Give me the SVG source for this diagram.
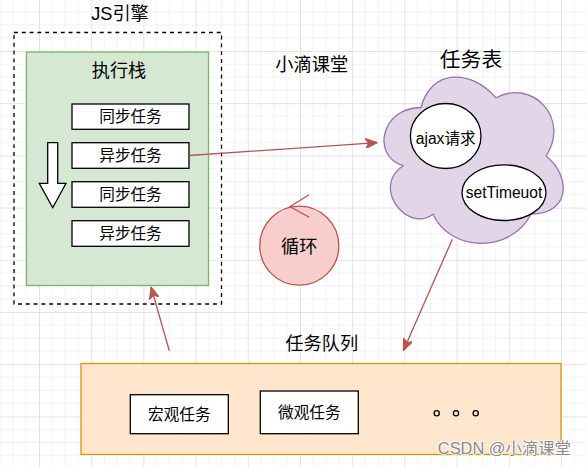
<svg xmlns="http://www.w3.org/2000/svg" width="587" height="467" viewBox="0 0 587 467">
<style>
text{font-family:"Liberation Sans","Noto Sans CJK SC",sans-serif;fill:#000;text-anchor:middle;dominant-baseline:central}
.box{fill:#fff;stroke:#000;stroke-width:1.3}
.conn{fill:none;stroke:#b85450;stroke-width:1.3}
.s15{font-size:15.6px}
.s18{font-size:18.2px}
</style>
<defs>
<pattern id="grid" patternUnits="userSpaceOnUse" x="39" y="51" width="52.2" height="52.2">
<path d="M13.05 0V52.2M26.1 0V52.2M39.15 0V52.2M0 13.05H52.2M0 26.1H52.2M0 39.15H52.2" stroke="#f2f2f2" stroke-width="1" fill="none"/>
<path d="M0.5 0V52.2M0 0.5H52.2" stroke="#e3e3e3" stroke-width="1" fill="none"/>
</pattern>
<marker id="arr" markerUnits="userSpaceOnUse" viewBox="0 0 12 10" refX="12" refY="5" markerWidth="12" markerHeight="10" orient="auto">
<path d="M0,0 L12,5 L0,10 L3,5 Z" fill="#b85450" stroke="#b85450" stroke-width="1"/>
</marker>
</defs>
<rect width="587" height="467" fill="#fff"/>
<rect width="587" height="467" fill="url(#grid)"/>

<g id="engine">
<rect x="14" y="32.5" width="207.5" height="271.5" fill="none" stroke="#000" stroke-width="1.3" stroke-dasharray="3.9 3.9"/>
<text x="120" y="13.5" class="s18">JS引擎</text>
</g>

<g id="stack">
<rect x="26.5" y="52" width="182" height="233.5" fill="#d5e8d4" stroke="#82b366" stroke-width="1.3"/>
<text x="119" y="71" class="s18">执行栈</text>
</g>

<g id="task1"><rect class="box" x="72" y="104" width="117" height="25.3"/><text class="s15" x="130.5" y="116.7">同步任务</text></g>
<g id="task2"><rect class="box" x="72" y="142.7" width="117" height="25.6"/><text class="s15" x="130.5" y="155.5">异步任务</text></g>
<g id="task3"><rect class="box" x="72" y="181.7" width="117" height="25.6"/><text class="s15" x="130.5" y="194.5">同步任务</text></g>
<g id="task4"><rect class="box" x="72" y="220.7" width="117" height="25.6"/><text class="s15" x="130.5" y="233.5">异步任务</text></g>

<g id="downArrow">
<polygon points="47.7,142.7 57.7,142.7 57.7,183.3 66,183.3 52.7,207.7 39.3,183.3 47.7,183.3" fill="#fff" stroke="#000" stroke-width="1.3"/>
</g>

<g id="title">
<text x="311.7" y="65" class="s18">小滴课堂</text>
</g>

<g id="taskTable">
<text x="471" y="59" style="font-size:20.8px">任务表</text>
<path d="M421,107.5 C381,107.5 371,156 403,165.7 C371,187 407,233.6 433,214.2 C451,253 511,253 531,214.2 C571,214.2 571,175.4 546,156 C571,117.2 531,78.4 496,97.8 C471,68.7 431,68.7 421,107.5 Z" fill="#e1d5e7" stroke="#9673a6" stroke-width="1.3"/>
</g>

<g id="ajax">
<ellipse cx="445.7" cy="136" rx="35.3" ry="32.5" fill="#fff" stroke="#000" stroke-width="1.3"/>
<text x="445.7" y="138" class="s15">ajax请求</text>
</g>

<g id="setTimeout">
<ellipse cx="504" cy="192.7" rx="42" ry="27.8" fill="#fff" stroke="#000" stroke-width="1.3"/>
<text x="504" y="192.5" class="s15">setTimeuot</text>
</g>

<g id="loop">
<circle cx="299.3" cy="245.7" r="39.5" fill="#f8cecc" stroke="#b85450" stroke-width="1.3"/>
<polyline points="309,194.7 290,206.7 309.3,217.3" class="conn"/>
<text x="299.3" y="246.5" class="s18">循环</text>
</g>

<g id="queue">
<text x="321.7" y="344" class="s18">任务队列</text>
<rect x="81" y="363.5" width="480" height="91" fill="#ffe6cc" stroke="#d79b00" stroke-width="1.3"/>
</g>

<g id="macro"><rect class="box" x="130.3" y="394.7" width="98" height="39"/><text class="s15" x="179.3" y="414">宏观任务</text></g>
<g id="micro"><rect class="box" x="260.3" y="391" width="98" height="42.7"/><text class="s15" x="309.3" y="412.3">微观任务</text></g>

<g id="dots" fill="none" stroke="#000" stroke-width="1.3">
<circle cx="436.7" cy="413.3" r="2.6"/>
<circle cx="456" cy="413.3" r="2.6"/>
<circle cx="475.7" cy="413.3" r="2.6"/>
</g>

<g id="connectors">
<line x1="189" y1="155.5" x2="377.5" y2="142.7" class="conn" marker-end="url(#arr)"/>
<line x1="452.3" y1="239.3" x2="403.3" y2="350.7" class="conn" marker-end="url(#arr)"/>
<line x1="169.3" y1="350.7" x2="151" y2="286.7" class="conn" marker-end="url(#arr)"/>
</g>

<g id="watermark">
<text x="571" y="448" style="font-size:16.4px;text-anchor:end;fill:#8a8a8a;stroke:#fff;stroke-width:1.5;paint-order:stroke">CSDN @小滴课堂</text>
</g>
</svg>
